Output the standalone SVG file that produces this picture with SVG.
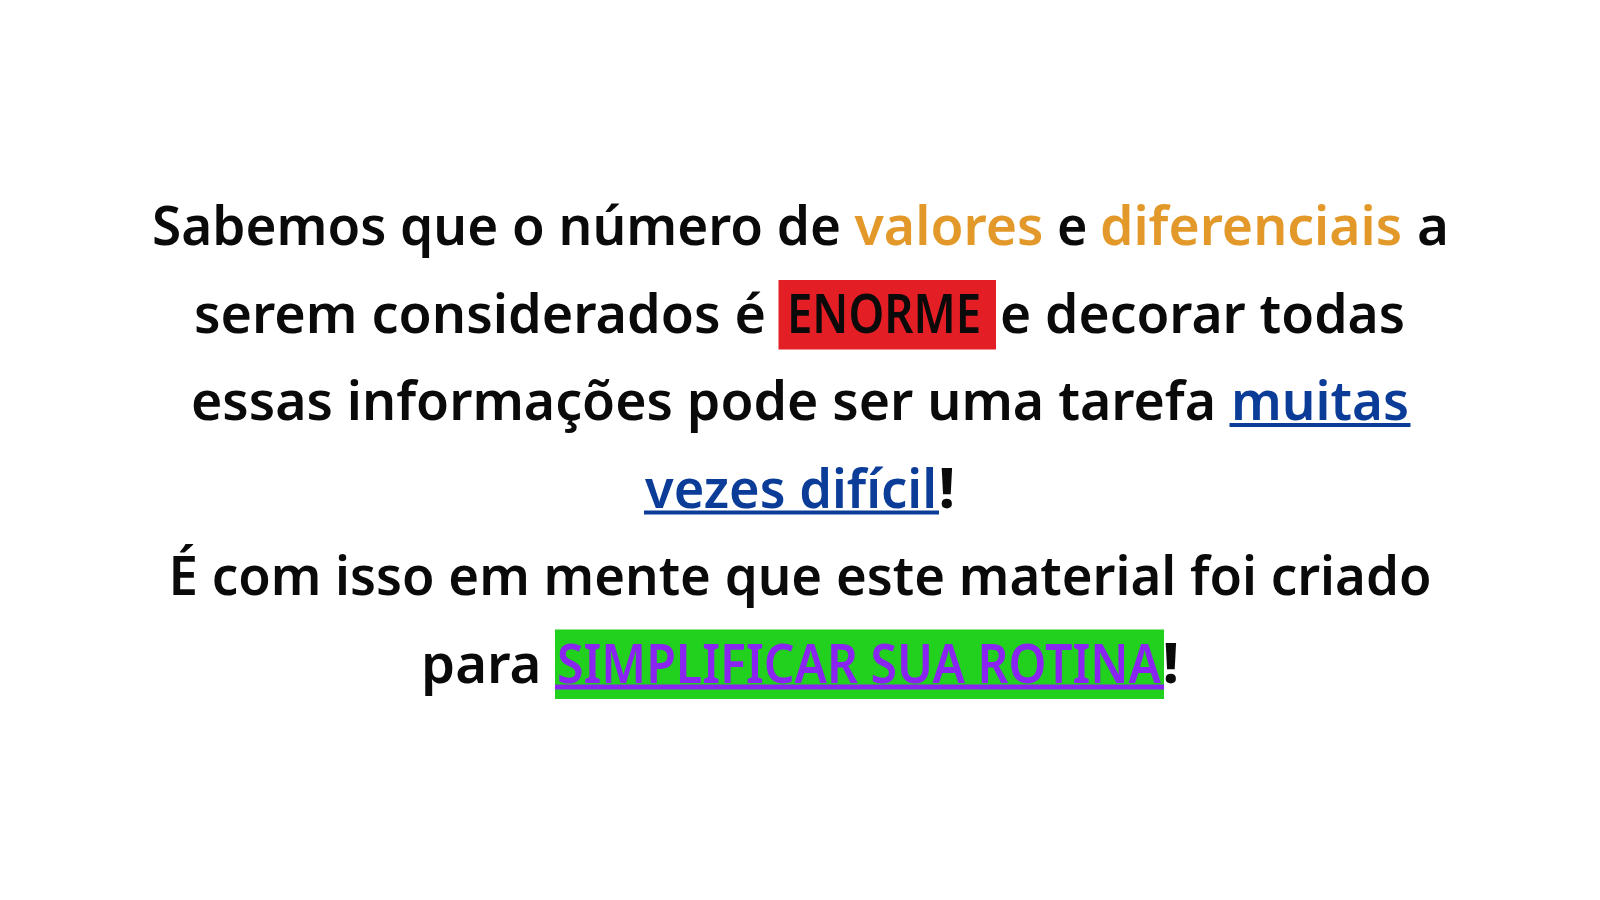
<svg xmlns="http://www.w3.org/2000/svg" width="1600" height="900" viewBox="0 0 1600 900">
<style>
.t{font-family:"Noto Sans","Open Sans","Liberation Sans",sans-serif;font-size:55px;font-weight:600;fill:#0a0a0a}
.x{font-weight:800}
.o{fill:#E3992A}
.b{fill:#0B3D98}
.p{fill:#8A24F0}
</style>
<rect width="1600" height="900" fill="#ffffff"/>
<g id="line1">
<text class="t" x="152" y="245" textLength="689" lengthAdjust="spacingAndGlyphs">Sabemos que o número de</text>
<text class="t o" x="854.5" y="245" textLength="189" lengthAdjust="spacingAndGlyphs">valores</text>
<text class="t" x="1057" y="245" textLength="30.5" lengthAdjust="spacingAndGlyphs">e</text>
<text class="t o" x="1100" y="245" textLength="302" lengthAdjust="spacingAndGlyphs">diferenciais</text>
<text class="t" x="1417" y="245" textLength="32" lengthAdjust="spacingAndGlyphs">a</text>
</g>
<g id="line2">
<text class="t" x="194" y="333" textLength="572" lengthAdjust="spacingAndGlyphs">serem considerados é</text>
<rect x="778.5" y="280" width="217.5" height="69.5" fill="#E31E24"/>
<text class="t" x="787" y="333" textLength="194" lengthAdjust="spacingAndGlyphs">ENORME</text>
<text class="t" x="1000" y="333" textLength="405" lengthAdjust="spacingAndGlyphs">e decorar todas</text>
</g>
<g id="line3">
<text class="t" x="191" y="420" textLength="1025" lengthAdjust="spacingAndGlyphs">essas informações pode ser uma tarefa</text>
<text class="t b" x="1231" y="420" textLength="178" lengthAdjust="spacingAndGlyphs">muitas</text>
<rect x="1229.5" y="423" width="181" height="4" fill="#0B3D98"/>
</g>
<g id="line4">
<text class="t b" x="645" y="508" textLength="292" lengthAdjust="spacingAndGlyphs">vezes difícil</text>
<rect x="644" y="510.5" width="295" height="4" fill="#0B3D98"/>
<text class="t x" x="939" y="508">!</text>
</g>
<g id="line5">
<text class="t" x="168.5" y="595" textLength="1263" lengthAdjust="spacingAndGlyphs">É com isso em mente que este material foi criado</text>
</g>
<g id="line6">
<text class="t" x="421" y="683" textLength="120.5" lengthAdjust="spacingAndGlyphs">para</text>
<rect x="555" y="629.5" width="609" height="69.5" fill="#22D11E"/>
<rect x="555" y="684.5" width="609" height="5" fill="#8A24F0"/>
<text class="t p" x="557" y="683" textLength="604" lengthAdjust="spacingAndGlyphs">SIMPLIFICAR SUA ROTINA</text>
<text class="t x" x="1163" y="683">!</text>
</g>
</svg>
